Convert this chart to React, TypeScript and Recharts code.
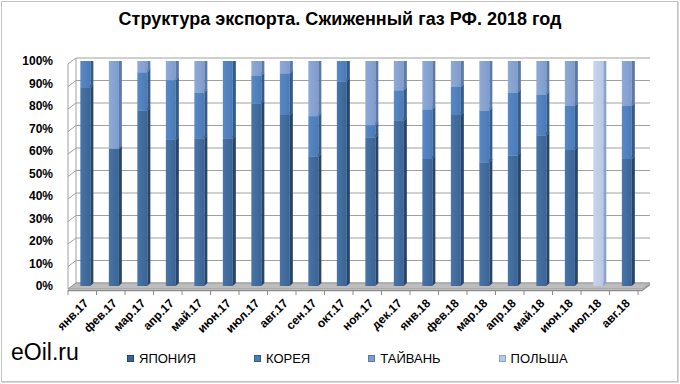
import React from 'react';
import { BarChart, Bar, XAxis, YAxis, Customized } from 'recharts';

const categories = ['янв.17','фев.17','мар.17','апр.17','май.17','июн.17','июл.17','авг.17','сен.17','окт.17','ноя.17','дек.17','янв.18','фев.18','мар.18','апр.18','май.18','июн.18','июл.18','авг.18'];
const japan = [88, 61, 78, 65, 65.5, 65.5, 81, 76, 57.5, 91, 66, 73.5, 56.5, 76, 55, 58, 67, 60.5, 0, 56.5];
const korea = [12, 0, 17, 26.5, 20.5, 34.5, 12.5, 18.5, 18, 9, 5.5, 13.5, 22, 12.5, 23, 28, 18, 19.5, 0, 23.5];
const taiwan = [0, 39, 5, 8.5, 14, 0, 6.5, 5.5, 24.5, 0, 28.5, 13, 21.5, 11.5, 22, 14, 15, 20, 0, 20];
const poland = [0, 0, 0, 0, 0, 0, 0, 0, 0, 0, 0, 0, 0, 0, 0, 0, 0, 0, 100, 0];
const yTicks = [0, 10, 20, 30, 40, 50, 60, 70, 80, 90, 100];

const seriesNames = ['ЯПОНИЯ', 'КОРЕЯ', 'ТАЙВАНЬ', 'ПОЛЬША'];
const seriesKeys = ['japan', 'korea', 'taiwan', 'poland'];
const seriesColors = [
  { front: '#3b6494', light: '#4874a8', side: '#274569', top: '#5a84b8' },
  { front: '#4a7bb7', light: '#5889c6', side: '#345a88', top: '#6f9bd2' },
  { front: '#7e9ccc', light: '#8eaad6', side: '#5d79a6', top: '#a3bce0' },
  { front: '#b8c8e5', light: '#c6d4ec', side: '#8fa3c6', top: '#d4dff2' },
];

const data = categories.map((c, i) => ({
  name: c,
  japan: japan[i],
  korea: korea[i],
  taiwan: taiwan[i],
  poland: poland[i],
}));

const FONT = "'Liberation Sans', Arial, sans-serif";
const W = 680;
const H = 384;
const M_TOP = 61;
const M_RIGHT = 38;
const Y_W = 72;
const X_H = 98;
const PL = Y_W;
const PR = W - M_RIGHT;
const PT = M_TOP;
const PB = H - X_H;

const yOf = (v: number) => PB - (PB - PT) * v / 100;

const Decor = () => {
  const n = categories.length;
  const step = (PR - PL) / n;
  const wallX = PL - 4;
  const backX = wallX + 8;
  const backR = PR + 8;
  return (
    <g>
      <line x1={backX} y1={yOf(100) - 3} x2={backX} y2={yOf(0) - 3} stroke="#a0a0a0" strokeWidth={1} />
      {yTicks.map((t) => (
        <g key={t}>
          <line x1={wallX} y1={yOf(t) + 3} x2={backX} y2={yOf(t) - 3} stroke="#a0a0a0" strokeWidth={1} />
          <line x1={backX} y1={yOf(t) - 3} x2={backR} y2={yOf(t) - 3} stroke="#a0a0a0" strokeWidth={1} />
        </g>
      ))}
      <line x1={wallX} y1={yOf(100) + 3} x2={wallX} y2={yOf(0) + 3} stroke="#a0a0a0" strokeWidth={1} />
      <polygon
        points={`${wallX},${yOf(0) + 3} ${PR},${yOf(0) + 3} ${backR},${yOf(0) - 3} ${backX},${yOf(0) - 3}`}
        fill="#bdbdbd"
        stroke="#999"
        strokeWidth={1}
      />
      <line x1={wallX} y1={yOf(0) + 4.5} x2={PR} y2={yOf(0) + 4.5} stroke="#8c8c8c" strokeWidth={1.5} />
      <line x1={PR} y1={yOf(0) + 4.5} x2={backR} y2={yOf(0) - 1.5} stroke="#8c8c8c" strokeWidth={1.5} />
      {categories.map((c, i) => (
        <line key={c} x1={wallX + step * i} y1={yOf(0) + 4} x2={wallX + step * i} y2={yOf(0) + 9} stroke="#8c8c8c" strokeWidth={1} />
      ))}
      <line x1={wallX + step * n} y1={yOf(0) + 4} x2={wallX + step * n} y2={yOf(0) + 9} stroke="#8c8c8c" strokeWidth={1} />
    </g>
  );
};

const makeShape = (idx: number) => (props: any) => {
  const { x, y, width, height } = props;
  if (!height || height <= 0.2) return <g />;
  const c = seriesColors[idx];
  const fw = 10;
  const cx = x + width / 2 - 1;
  const fx = cx - fw / 2;
  const s = 3;
  return (
    <g>
      <polygon points={`${fx},${y} ${fx + s},${y - s} ${fx + fw + s},${y - s} ${fx + fw},${y}`} fill={c.top} />
      <rect x={fx} y={y} width={fw} height={height} fill={`url(#grad${idx})`} />
      <polygon points={`${fx + fw},${y} ${fx + fw + s},${y - s} ${fx + fw + s},${y + height - s} ${fx + fw},${y + height}`} fill={c.side} />
    </g>
  );
};

export default function App() {
  return (
    <div style={{ position: 'absolute', left: 0, top: 0, width: W, height: H, background: '#fff', fontFamily: FONT }}>
      <div style={{ position: 'absolute', left: 1, top: 1, width: W - 5, height: H - 5, border: '1px solid #c4c4c4', boxShadow: '1px 1px 0 #d8d8d8' }} />
      <div style={{ position: 'absolute', left: 0, top: 9, width: W, textAlign: 'center', fontWeight: 'bold', fontSize: 18, color: '#000' }}>
        Структура экспорта. Сжиженный газ РФ. 2018 год
      </div>
      <div style={{ position: 'absolute', left: 11, top: 339, fontSize: 23, color: '#000' }}>eOil.ru</div>
      <div style={{ position: 'absolute', left: 127, top: 351, display: 'flex', alignItems: 'center', fontSize: 13, color: '#000' }}>
        {seriesNames.map((nm, i) => (
          <div key={nm} style={{ display: 'flex', alignItems: 'center', marginRight: 58 }}>
            <div style={{ width: 7, height: 7, background: seriesColors[i].front, border: `1px solid ${seriesColors[i].side}`, marginRight: 5, boxSizing: 'border-box' }} />
            <span>{nm}</span>
          </div>
        ))}
      </div>
      <div style={{ position: 'absolute', left: 0, top: 0 }}>
        <BarChart width={W} height={H} data={data} margin={{ top: M_TOP, right: M_RIGHT, left: 0, bottom: 0 }}>
          <defs>
            {seriesColors.map((c, i) => (
              <linearGradient key={i} id={`grad${i}`} x1="0" y1="0" x2="1" y2="0">
                <stop offset="0%" stopColor={c.light} />
                <stop offset="100%" stopColor={c.front} />
              </linearGradient>
            ))}
          </defs>
          <Customized component={Decor} />
          <XAxis
            dataKey="name"
            interval={0}
            height={X_H}
            angle={-45}
            textAnchor="end"
            tickLine={false}
            axisLine={false}
            tickMargin={6}
            dx={-3}
            tick={{ fontFamily: FONT, fontWeight: 'bold', fontSize: 12, fill: '#000' }}
          />
          <YAxis
            width={Y_W}
            domain={[0, 100]}
            ticks={yTicks}
            tickFormatter={(v: number) => `${v}%`}
            axisLine={false}
            tickLine={false}
            tickMargin={13}
            tick={{ fontFamily: FONT, fontWeight: 'bold', fontSize: 12, fill: '#000' }}
            allowDataOverflow
          />
          {seriesKeys.map((k, i) => (
            <Bar key={k} dataKey={k} name={seriesNames[i]} stackId="a" isAnimationActive={false} shape={makeShape(i)} />
          ))}
        </BarChart>
      </div>
    </div>
  );
}
